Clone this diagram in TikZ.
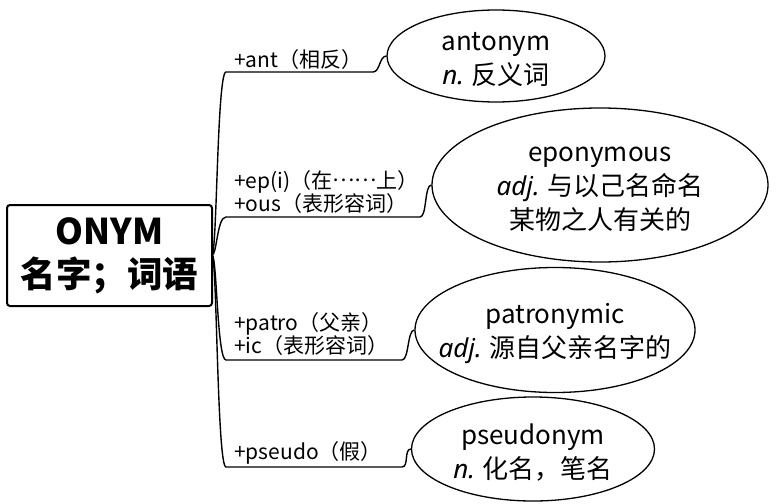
\documentclass[tikz,border=0pt]{standalone}
\usepackage{fontspec}
\usetikzlibrary{shapes.geometric}
\setmainfont{Noto Sans CJK SC}
\newfontfamily\latinit{Noto Sans}
\begin{document}
\begin{tikzpicture}[x=1pt,y=-1pt,
  rootbox/.style={draw,line width=2pt,rounded corners=3pt,minimum width=205pt,minimum height=101pt,inner sep=0pt,align=center,font=\fontsize{35.5}{43}\selectfont\bfseries},
  wordell/.style={draw,ellipse,line width=1.3pt,inner sep=0pt},
  wordtxt/.style={inner sep=0pt,align=center,yshift=-4pt,font=\fontsize{26}{34}\selectfont},
  branchlbl/.style={anchor=west,inner sep=0pt,align=left,font=\fontsize{21}{22}\selectfont},
  conn/.style={line width=1.4pt}]
\useasboundingbox (0,0) rectangle (778,503);
\node[rootbox] (root) at (109.5,255.5) {ONYM\\名字；词语};
\node[wordell,minimum width=218pt,minimum height=92pt] (e1) at (496,56) {};
\node[wordell,minimum width=336pt,minimum height=154pt] (e2) at (600,185) {};
\node[wordell,minimum width=280pt,minimum height=125pt] (e3) at (555,330) {};
\node[wordell,minimum width=243pt,minimum height=104pt] (e4) at (533,449) {};
\node[wordtxt] (t1) at (e1.center) {antonym\\{\latinit\itshape n.} 反义词};
\node[wordtxt] (t2) at (e2.center) {eponymous\\{\latinit\itshape adj.} 与以己名命名\\某物之人有关的};
\node[wordtxt] (t3) at (e3.center) {patronymic\\{\latinit\itshape adj.} 源自父亲名字的};
\node[wordtxt] (t4) at (e4.center) {pseudonym\\{\latinit\itshape n.} 化名，笔名};
\coordinate (b1s) at (226,72);  \coordinate (b1e) at (373,72);
\coordinate (b2s) at (226,217); \coordinate (b2e) at (420,217);
\coordinate (b3s) at (226,360); \coordinate (b3e) at (402,360);
\coordinate (b4s) at (226,467); \coordinate (b4e) at (402,467);
\coordinate (rs) at (212,255);
\foreach \i in {1,2,3,4}{
  \draw[conn] (rs) .. controls +(5,0) and +(-9,0) .. (b\i s) -- (b\i e) .. controls +(7,0) and +(-7,0) .. (e\i.west);
}
\node[branchlbl] (l1) at (234,60) {+ant（相反）};
\node[branchlbl] (l2) at (234,192) {+ep(i)（在\raisebox{0.33em}{……}上）\\+ous（表形容词）};
\node[branchlbl] (l3) at (234,334) {\fontsize{21}{26}\selectfont +patro（父亲）\\+ic（表形容词）};
\node[branchlbl] (l4) at (234,453) {+pseudo（假）};
\end{tikzpicture}
\end{document}
